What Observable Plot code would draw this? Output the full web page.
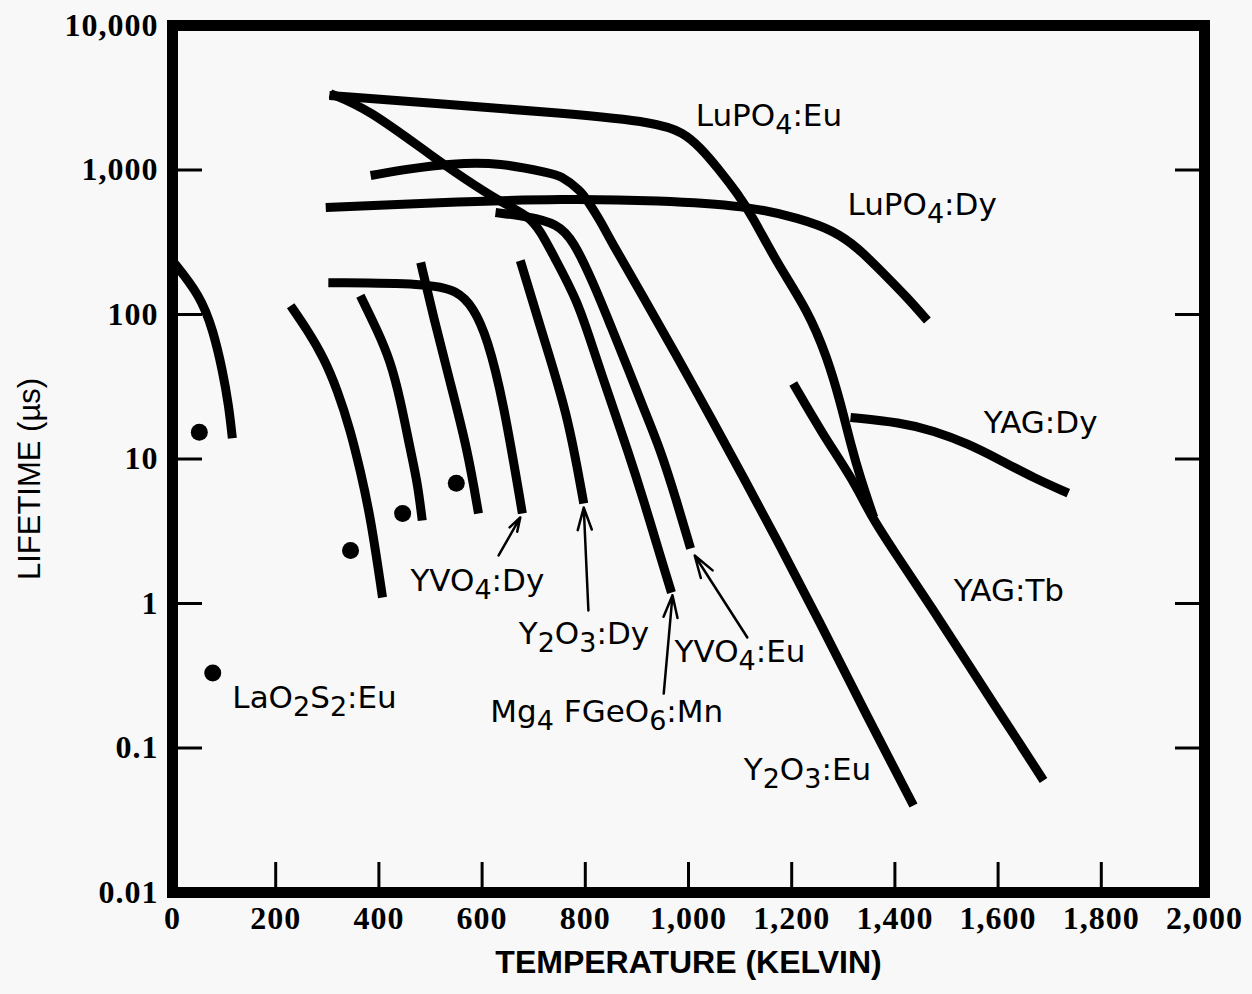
<!DOCTYPE html>
<html>
<head>
<meta charset="utf-8">
<script src="https://cdn.jsdelivr.net/npm/d3@7"></script>
<script src="https://cdn.jsdelivr.net/npm/@observablehq/plot@0.6"></script>
<style>
  html, body { margin: 0; padding: 0; background: #f8f8f8; }
  #chart svg { display: block; }
  g[aria-label="y-axis tick label"] text, g[aria-label="x-axis tick label"] text { letter-spacing: 1px; }
</style>
</head>
<body>
<div id="chart"></div>
<script>
// ---- Data (temperature in K, lifetime in µs) ----
const laA_T   = [0, 54, 79, 97, 109, 116];
const laA_tau = [235, 135, 77, 41, 23.4, 13.9];

const laB_T   = [229, 262, 293, 320, 345, 364, 384, 407];
const laB_tau = [115, 77.5, 50.4, 29.8, 15.7, 8.3, 3.94, 1.10];

const laC_T   = [364, 397, 422, 442, 461, 475, 484];
const laC_tau = [135, 77.5, 48, 25.4, 11.5, 6.8, 3.75];

const laD_T   = [481, 506, 539, 572, 593];
const laD_tau = [229, 95, 33, 11.5, 4.2];

const yvo4Dy_T   = [302, 494, 552, 583, 610, 641, 678];
const yvo4Dy_tau = [166, 164, 147, 112, 69, 25.4, 4.2];

const y2o3Dy_T   = [674, 727, 767, 797];
const y2o3Dy_tau = [236, 56, 19.4, 4.92];

const mgGe_T   = [306, 378, 506, 591, 649, 688, 713, 738, 785, 816, 849, 882, 913, 952, 967];
const mgGe_tau = [3380, 2665, 1220, 757, 568, 484, 381, 256, 125, 56.4, 25.4, 11.5, 5.2, 1.77, 1.19];

const yvo4Eu_T   = [626, 688, 746, 777, 816, 849, 882, 913, 946, 975, 1004];
const yvo4Eu_tau = [508, 477, 426, 325, 164, 84, 43, 22.4, 11.5, 5.4, 2.4];

const y2o3Eu_T   = [384, 461, 539, 636, 733, 752, 791, 804, 829, 849, 913, 979, 1043, 1107, 1172, 1250, 1347, 1436];
const y2o3Eu_tau = [916, 1024, 1109, 1127, 946, 916, 721, 615, 448, 325, 131, 50.4, 19.4, 7.4, 2.73, 0.80, 0.163, 0.040];

const lupo4Eu_T   = [304, 508, 767, 940, 990, 1023, 1056, 1095, 1124, 1172, 1231, 1269, 1295, 1314, 1333, 1359];
const lupo4Eu_tau = [3280, 2885, 2460, 2130, 1818, 1431, 1041, 688, 477, 225, 107, 50.4, 24.2, 12.8, 7.4, 3.94];

const lupo4Dy_T   = [297, 508, 767, 940, 1112, 1217, 1281, 1328, 1378, 1424, 1463];
const lupo4Dy_tau = [550, 596, 635, 615, 568, 461, 381, 291, 192, 131, 90.8];

const yagDy_T   = [1314, 1411, 1475, 1541, 1605, 1669, 1736];
const yagDy_tau = [19.4, 17.9, 15.7, 12.8, 9.8, 7.4, 5.8];

const yagTb_T   = [1203, 1259, 1320, 1353, 1397, 1475, 1541, 1591, 1638, 1688];
const yagTb_tau = [33.3, 15.0, 7.1, 4.06, 2.33, 0.895, 0.385, 0.203, 0.113, 0.0596];

// single measured points
const point_T   = [52, 78, 345, 446, 550];
const point_tau = [15.3, 0.33, 2.33, 4.2, 6.8];

// labels (anchor = left end of text); "_n" marks a subscript digit
const labelText = ["LuPO_4:Eu", "LuPO_4:Dy", "YAG:Dy", "YAG:Tb", "Y_2O_3:Eu", "YVO_4:Eu", "Mg_4 FGeO_6:Mn", "Y_2O_3:Dy", "YVO_4:Dy", "LaO_2S_2:Eu"];
const label_T   = [1014, 1308, 1572, 1514, 1107, 973, 616, 671, 461, 116];
const label_tau = [2380, 568, 17.6, 1.21, 0.0698, 0.458, 0.176, 0.61, 1.44, 0.223];

// leader arrows (tail -> head)
const arrow_T1   = [632, 806, 952, 1114];
const arrow_tau1 = [2.15, 0.895, 0.238, 0.582];
const arrow_T2   = [674, 797, 969, 1012];
const arrow_tau2 = [3.94, 4.61, 1.14, 2.15];

// axes
const yTickMarks  = [0.1, 1, 10, 100, 1000];
const yLabelVals  = [0.01, 0.1, 1, 10, 100, 1000, 10000];
const yLabelText  = ["0.01", "0.1", "1", "10", "100", "1,000", "10,000"];
const xTickMarks  = [200, 400, 600, 800, 1000, 1200, 1400, 1600, 1800];
const xLabelVals  = [0, 200, 400, 600, 800, 1000, 1200, 1400, 1600, 1800, 2000];
const xLabelText  = ["0", "200", "400", "600", "800", "1,000", "1,200", "1,400", "1,600", "1,800", "2,000"];

// ---- Build tables ----
const curves = [
  ["a", laA_T, laA_tau], ["b", laB_T, laB_tau], ["c", laC_T, laC_tau], ["d", laD_T, laD_tau],
  ["YVO4:Dy", yvo4Dy_T, yvo4Dy_tau], ["Y2O3:Dy", y2o3Dy_T, y2o3Dy_tau],
  ["Mg4FGeO6:Mn", mgGe_T, mgGe_tau], ["YVO4:Eu", yvo4Eu_T, yvo4Eu_tau],
  ["Y2O3:Eu", y2o3Eu_T, y2o3Eu_tau], ["LuPO4:Eu", lupo4Eu_T, lupo4Eu_tau],
  ["LuPO4:Dy", lupo4Dy_T, lupo4Dy_tau], ["YAG:Dy", yagDy_T, yagDy_tau], ["YAG:Tb", yagTb_T, yagTb_tau]
];
const lineData = curves.flatMap(([name, T, tau]) => T.map((t, i) => ({series: name, T: t, tau: tau[i]})));
const points = point_T.map((t, i) => ({T: t, tau: point_tau[i]}));
const labels = labelText.map((s, i) => ({text: s, T: label_T[i], tau: label_tau[i]}));
const arrows = arrow_T1.map((t, i) => ({x1: t, y1: arrow_tau1[i], x2: arrow_T2[i], y2: arrow_tau2[i]}));
const yFmt = new Map(yLabelVals.map((v, i) => [v, yLabelText[i]]));
const xFmt = new Map(xLabelVals.map((v, i) => [v, xLabelText[i]]));

const tickFont = {fontSize: 32, fontFamily: "Liberation Serif", fontWeight: "bold"};

const chart = Plot.plot({
  width: 1252,
  height: 994,
  marginLeft: 172,
  marginRight: 48,
  marginTop: 25,
  marginBottom: 102,
  style: {background: "#f8f8f8", color: "black", fontFamily: "DejaVu Sans"},
  x: {domain: [0, 2000]},
  y: {type: "log", domain: [0.01, 10000]},
  marks: [
    Plot.line(lineData, {x: "T", y: "tau", z: "series", curve: "basis", stroke: "black", strokeWidth: 9, strokeLinecap: "butt", strokeLinejoin: "round"}),
    Plot.dot(points, {x: "T", y: "tau", r: 8.5, fill: "black", stroke: null}),
    Plot.arrow(arrows, {x1: "x1", y1: "y1", x2: "x2", y2: "y2", stroke: "black", strokeWidth: 2.5, headLength: 14, headAngle: 35}),
    Plot.text(labels, {x: "T", y: "tau", text: "text", textAnchor: "start", fontSize: 31, fontFamily: "DejaVu Sans", fill: "black"}),
    Plot.frame({stroke: "black", strokeWidth: 11}),
    Plot.axisY(yTickMarks, {anchor: "left", tickSize: -30, strokeWidth: 3, fill: "none", label: null}),
    Plot.axisY(yTickMarks, {anchor: "right", tickSize: -30, strokeWidth: 3, fill: "none", label: null}),
    Plot.axisX(xTickMarks, {anchor: "bottom", tickSize: -30, strokeWidth: 3, fill: "none", label: null}),
    Plot.axisY(yLabelVals, {anchor: "left", tickSize: 0, tickPadding: 14, tickFormat: (d) => yFmt.get(d), label: null, ...tickFont}),
    Plot.axisX(xLabelVals, {anchor: "bottom", tickSize: 0, tickPadding: 14, tickFormat: (d) => xFmt.get(d), label: null, ...tickFont}),
    Plot.text(["LIFETIME (µs)"], {frameAnchor: "left", textAnchor: "middle", rotate: -90, dx: -142, dy: 20, fontSize: 31, fontFamily: "Liberation Sans", fill: "black"}),
    Plot.text(["TEMPERATURE (KELVIN)"], {frameAnchor: "bottom", dy: 80, fontSize: 32, fontWeight: "bold", fontFamily: "Liberation Sans", fill: "black"})
  ]
});

// render "_n" as subscript tspans (text stays real text)
const NS = "http://www.w3.org/2000/svg";
chart.querySelectorAll("text").forEach((t) => {
  const s = t.textContent;
  if (!s.includes("_")) return;
  t.textContent = "";
  const parts = s.split(/_(\d)/);
  let lowered = false;
  parts.forEach((p, i) => {
    if (p === "") return;
    const ts = document.createElementNS(NS, "tspan");
    ts.textContent = p;
    const isSub = i % 2 === 1;
    if (isSub) {
      ts.setAttribute("font-size", "27");
      if (!lowered) { ts.setAttribute("dy", "8"); lowered = true; }
    } else if (lowered) {
      ts.setAttribute("dy", "-8"); lowered = false;
    }
    t.appendChild(ts);
  });
});

document.getElementById("chart").appendChild(chart);
</script>
</body>
</html>
